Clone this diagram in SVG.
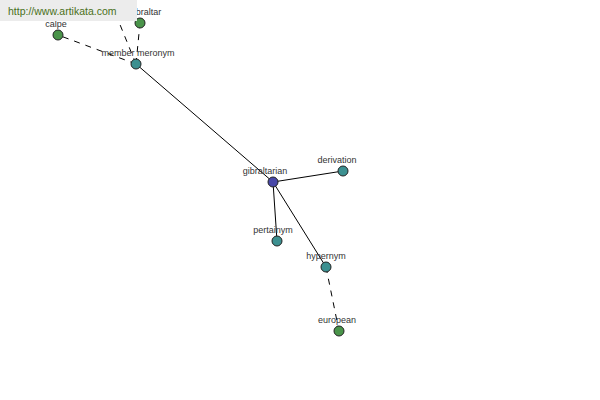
<svg xmlns="http://www.w3.org/2000/svg" width="600" height="400" viewBox="0 0 600 400">
<style>
.lbl{font-family:"Liberation Sans",Arial,sans-serif;font-size:9px;fill:#333;text-anchor:middle}
.e{stroke:#000;stroke-width:1;fill:none}
.d{stroke-dasharray:6,6}
.n{stroke:#222;stroke-width:1}
.root{fill:#4848a8}
.rel{fill:#3c9090}
.word{fill:#4a944a}
</style>
<rect width="600" height="400" fill="#fff"/>
<g id="connectors">
<line class="e" x1="136" y1="64" x2="273" y2="182"/>
<line class="e" x1="273" y1="182" x2="343" y2="171"/>
<line class="e" x1="273" y1="182" x2="277" y2="241"/>
<line class="e" x1="273" y1="182" x2="326" y2="267"/>
<line class="e d" x1="136" y1="64" x2="58" y2="35"/>
<line class="e d" x1="136" y1="64" x2="140" y2="23"/>
<line class="e d" x1="136" y1="64" x2="110" y2="0"/>
<line class="e d" x1="326" y1="267" x2="339" y2="331"/>
</g>
<g id="node-member-meronym"><circle class="n rel" cx="136" cy="64" r="5"/><text class="lbl" x="138" y="56">member meronym</text></g>
<g id="node-calpe"><circle class="n word" cx="58" cy="35" r="5"/><text class="lbl" x="56" y="27">calpe</text></g>
<g id="node-gibraltar"><circle class="n word" cx="140" cy="23" r="5"/><text class="lbl" x="145" y="15">gibraltar</text></g>
<g id="node-gibraltarian"><circle class="n root" cx="273" cy="182" r="5"/><text class="lbl" x="265" y="174">gibraltarian</text></g>
<g id="node-derivation"><circle class="n rel" cx="343" cy="171" r="5"/><text class="lbl" x="337" y="163">derivation</text></g>
<g id="node-pertainym"><circle class="n rel" cx="277" cy="241" r="5"/><text class="lbl" x="273" y="233">pertainym</text></g>
<g id="node-hypernym"><circle class="n rel" cx="326" cy="267" r="5"/><text class="lbl" x="326" y="259">hypernym</text></g>
<g id="node-european"><circle class="n word" cx="339" cy="331" r="5"/><text class="lbl" x="337" y="323">european</text></g>
<g id="watermark">
<rect x="0" y="0" width="137" height="21" fill="#ececec"/>
<text x="8" y="15" font-family="'Liberation Sans',Arial,sans-serif" font-size="10.5" fill="#4a7020">http://www.artikata.com</text>
</g>
</svg>
